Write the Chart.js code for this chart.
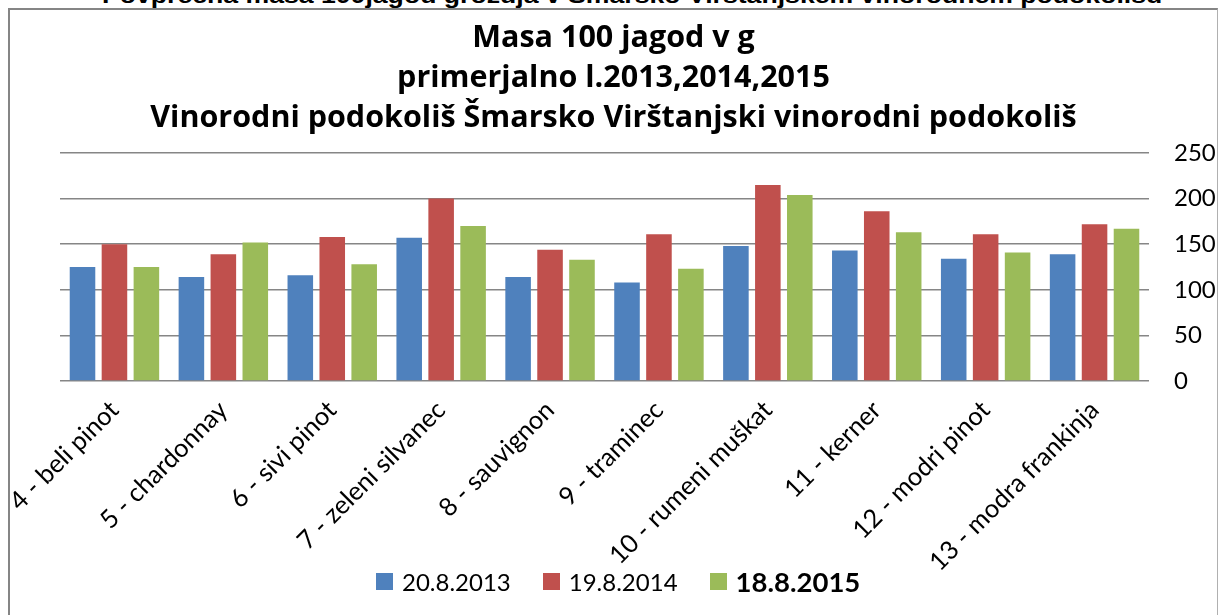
<!DOCTYPE html>
<html>
<head>
<meta charset="utf-8">
<script src="https://cdn.jsdelivr.net/npm/chart.js@4/dist/chart.umd.min.js"></script>
<style>
  body { margin: 0; width: 1218px; height: 615px; overflow: hidden; background: #fff; position: relative; }
  #topText { position: absolute; left: 0; top: -15px; white-space: nowrap; font: bold 22px "Liberation Sans", Arial, sans-serif; line-height: 1; color: #000; transform-origin: 0 0; }
  #frame { position: absolute; left: 8px; top: 8px; width: 1207px; height: 620px; border-top: 2px solid #858585; border-left: 2px solid #858585; border-right: 1px solid #b0b0b0; }
  #chartCanvas { position: absolute; left: 10px; top: 10px; }
  #legend { position: absolute; left: 376px; top: 565px; display: flex; align-items: center; font-family: Lato, sans-serif; font-size: 24px; color: #000; }
  .item { display: flex; align-items: center; margin-right: 32px; }
  .box { width: 17px; height: 17px; margin-right: 9px; }
  .bold { font-weight: bold; font-size: 27.5px; }
</style>
</head>
<body>
<div id="topText">Povprečna masa 100jagod grozdja v Šmarsko Virštanjskem vinorodnem podokolišu</div>
<div id="frame"></div>
<canvas id="chartCanvas" width="1207" height="605"></canvas>
<div id="legend"></div>

<script>
// podatki
const categories = ['4 - beli pinot', '5 - chardonnay', '6 - sivi pinot', '7 - zeleni silvanec', '8 - sauvignon',
    '9 - traminec', '10 - rumeni muškat', '11 - kerner', '12 - modri pinot', '13 - modra frankinja'];
const seriesNames = ['20.8.2013', '19.8.2014', '18.8.2015'];
const values2013 = [125, 114, 116, 157, 114, 108, 148, 143, 134, 139];
const values2014 = [150, 139, 158, 200, 144, 161, 215, 186, 161, 172];
const values2015 = [125, 152, 128, 170, 133, 123, 204, 163, 141, 167];
const yTicks = [0, 50, 100, 150, 200, 250];
const titleLines = ['Masa 100 jagod v g', 'primerjalno l.2013,2014,2015',
    'Vinorodni podokoliš Šmarsko Virštanjski vinorodni podokoliš'];

const colors = ['#4F81BD', '#C0504D', '#9BBB59'];

// stretch the cut-off heading above the frame to its width in the picture
const topText = document.getElementById('topText');
const w = topText.offsetWidth;
topText.style.left = '102px';
topText.style.transform = 'scaleX(' + (1060 / w) + ')';

// legend in html (the last entry is bold in the original)
const legend = document.getElementById('legend');
seriesNames.forEach((name, i) => {
    const item = document.createElement('div');
    item.className = 'item';
    item.innerHTML = `<div class="box" style="background:${colors[i]}"></div><span class="${i === 2 ? 'bold' : ''}">${name}</span>`;
    legend.appendChild(item);
});

const ctx = document.getElementById('chartCanvas').getContext('2d');
const chart = new Chart(ctx, {
    type: 'bar',
    data: {
        labels: categories,
        datasets: [
            { label: seriesNames[0], data: values2013, backgroundColor: colors[0] },
            { label: seriesNames[1], data: values2014, backgroundColor: colors[1] },
            { label: seriesNames[2], data: values2015, backgroundColor: colors[2] }
        ]
    },
    options: {
        responsive: false,
        animation: false,
        devicePixelRatio: 1,
        categoryPercentage: 0.88,
        barPercentage: 0.8,
        layout: { padding: 0 },
        plugins: {
            legend: { display: false },
            tooltip: { enabled: false },
            title: {
                display: true,
                text: titleLines,
                color: '#000',
                font: { family: 'Open Sans', weight: 'bold', size: 30.5, lineHeight: '40px' },
                padding: { top: 8, bottom: 15 }
            }
        },
        scales: {
            x: {
                grid: { display: false },
                border: { display: false },
                ticks: {
                    color: '#000',
                    font: { family: 'Lato', size: 25.5 },
                    minRotation: 45,
                    maxRotation: 45,
                    padding: 6,
                    autoSkip: false
                },
                // fixed room under the plot and on its left side
                afterFit: (scale) => {
                    scale.height = 234;
                    scale.paddingLeft = 50;
                    scale.paddingRight = 0;
                }
            },
            y: {
                position: 'right',
                min: 0,
                max: 250,
                afterBuildTicks: (scale) => { scale.ticks = yTicks.map(v => ({ value: v })); },
                grid: { color: '#868686', lineWidth: 1.5, drawTicks: false },
                border: { display: false },
                ticks: {
                    color: '#000',
                    font: { family: 'Lato', size: 24 },
                    padding: 25
                },
                afterFit: (scale) => { scale.width = 68; }
            }
        }
    }
});
</script>
</body>
</html>
